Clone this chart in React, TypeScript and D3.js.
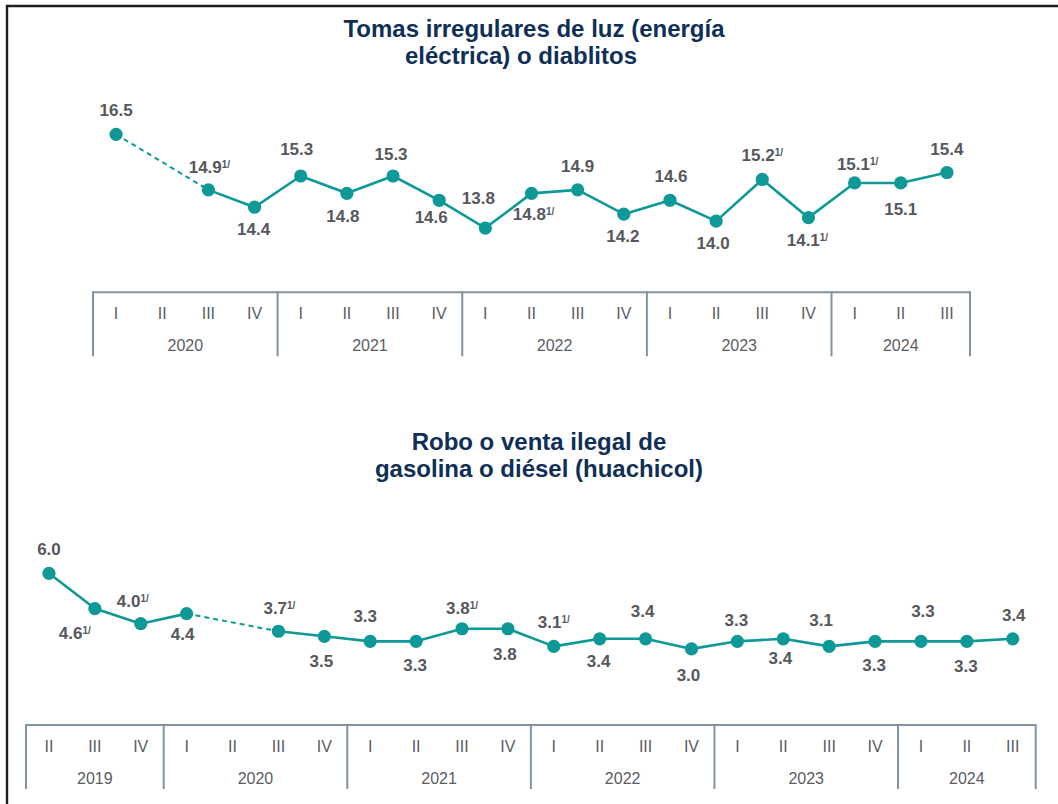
import React from "react";
import * as d3 from "d3";

// ---------- Data ----------
const elecTitle = ["Tomas irregulares de luz (energía", "eléctrica) o diablitos"];
const elecYears = ["2020","2020","2020","2020","2021","2021","2021","2021","2022","2022","2022","2022","2023","2023","2023","2023","2024","2024","2024"];
const elecQuarters = ["I","II","III","IV","I","II","III","IV","I","II","III","IV","I","II","III","IV","I","II","III"];
const elecValues: (number | null)[] = [16.5, null, 14.9, 14.4, 15.3, 14.8, 15.3, 14.6, 13.8, 14.8, 14.9, 14.2, 14.6, 14.0, 15.2, 14.1, 15.1, 15.1, 15.4];
const elecNotes = [false, false, true, false, false, false, false, false, false, true, false, false, false, false, true, true, true, false, false];
// label offset relative to the point (layout)
const elecLabelDx = [0, 0, 1, -1, -4, -4, -2, -8, -7, 2, 0, -1, 1, -3, 0, -1, 3, 0, 0];
const elecLabelDy = [-18, 0, -17, 28, -21, 29, -16, 23, -24, 27, -18, 28, -18, 28, -18, 28, -13, 32, -18];

const fuelTitle = ["Robo o venta ilegal de", "gasolina o diésel (huachicol)"];
const fuelYears = ["2019","2019","2019","2020","2020","2020","2020","2021","2021","2021","2021","2022","2022","2022","2022","2023","2023","2023","2023","2024","2024","2024"];
const fuelQuarters = ["II","III","IV","I","II","III","IV","I","II","III","IV","I","II","III","IV","I","II","III","IV","I","II","III"];
const fuelValues: (number | null)[] = [6.0, 4.6, 4.0, 4.4, null, 3.7, 3.5, 3.3, 3.3, 3.8, 3.8, 3.1, 3.4, 3.4, 3.0, 3.3, 3.4, 3.1, 3.3, 3.3, 3.3, 3.4];
const fuelNotes = [false, true, true, false, false, true, false, false, false, true, false, true, false, false, false, false, false, false, false, false, false, false];
const fuelLabelDx = [0, -20, -8, -4, 0, 1, -3, -5, -1, 0, -3, 0, -1, -3, -3, -1, -3, -8, -1, 2, -1, 1];
const fuelLabelDy = [-18, 30, -17, 26, 0, -17, 31, -19, 30, -15, 31, -18, 28, -22, 32, -15, 25, -20, 30, -24, 31, -18];

const noteText = "1/";

// ---------- Style ----------
const TEAL = "#0f9898";
const NAVY = "#0f2f57";
const LABEL = "#55585c";
const AXIS = "#8193a1";
const AXIS_TEXT = "#5a5d62";
const FONT = "'Liberation Sans', Arial, Helvetica, sans-serif";

type ChartProps = {
  title: string[];
  titleX: number[];
  titleY: number;
  years: string[];
  quarters: string[];
  values: (number | null)[];
  notes: boolean[];
  labelDx: number[];
  labelDy: number[];
  xRange: [number, number];
  yDomain: [number, number];
  yRange: [number, number];
  axisTop: number;
};

function QuarterChart(p: ChartProps) {
  const keys = p.quarters.map((q, i) => `${p.years[i]}-${q}-${i}`);
  const x = d3.scaleBand<string>().domain(keys).range(p.xRange).padding(0);
  const y = d3.scaleLinear().domain(p.yDomain).range(p.yRange);
  const cx = (i: number) => (x(keys[i]) as number) + x.bandwidth() / 2;

  type Pt = { i: number; v: number | null };
  const pts: Pt[] = p.values.map((v, i) => ({ i, v }));
  const solid = d3
    .line<Pt>()
    .defined((d) => d.v != null)
    .x((d) => cx(d.i))
    .y((d) => y(d.v as number));

  const defined = pts.filter((d) => d.v != null);
  const gaps: Pt[][] = [];
  for (let k = 1; k < defined.length; k++) {
    if (defined[k].i - defined[k - 1].i > 1) gaps.push([defined[k - 1], defined[k]]);
  }
  const dashed = d3
    .line<Pt>()
    .x((d) => cx(d.i))
    .y((d) => y(d.v as number));

  // year groups
  const groups: { year: string; start: number; end: number }[] = [];
  p.years.forEach((yr, i) => {
    const g = groups[groups.length - 1];
    if (g && g.year === yr) g.end = i;
    else groups.push({ year: yr, start: i, end: i });
  });
  const bw = x.bandwidth();
  const left = p.xRange[0];
  const right = p.xRange[1];
  const top = p.axisTop;
  const bottom = p.axisTop + 64;

  return (
    <g>
      {p.title.map((t, k) => (
        <text
          key={k}
          x={p.titleX[k]}
          y={p.titleY + k * 27}
          textAnchor="middle"
          fontFamily={FONT}
          fontWeight="bold"
          fontSize={24}
          fill={NAVY}
        >
          {t}
        </text>
      ))}
      {/* axis */}
      <line x1={left} x2={right} y1={top} y2={top} stroke={AXIS} strokeWidth={2} />
      {[left, ...groups.map((g) => (x(keys[g.end]) as number) + bw)].map((xx, k) => (
        <line key={k} x1={xx} x2={xx} y1={top - 1} y2={bottom} stroke={AXIS} strokeWidth={2} />
      ))}
      {p.quarters.map((q, i) => (
        <text
          key={i}
          x={cx(i)}
          y={top + 26.5}
          textAnchor="middle"
          fontFamily={FONT}
          fontSize={16}
          fill={AXIS_TEXT}
        >
          {q}
        </text>
      ))}
      {groups.map((g, k) => (
        <text
          key={k}
          x={((x(keys[g.start]) as number) + (x(keys[g.end]) as number) + bw) / 2}
          y={top + 58.5}
          textAnchor="middle"
          fontFamily={FONT}
          fontSize={16}
          fill={AXIS_TEXT}
        >
          {g.year}
        </text>
      ))}
      {/* lines */}
      <path d={solid(pts) || ""} fill="none" stroke={TEAL} strokeWidth={2.6} strokeLinejoin="round" />
      {gaps.map((g, k) => (
        <path key={k} d={dashed(g) || ""} fill="none" stroke={TEAL} strokeWidth={2} strokeDasharray="5 4" />
      ))}
      {defined.map((d) => (
        <circle key={d.i} cx={cx(d.i)} cy={y(d.v as number)} r={6.6} fill={TEAL} />
      ))}
      {defined.map((d) => (
        <text
          key={"l" + d.i}
          x={cx(d.i) + p.labelDx[d.i]}
          y={y(d.v as number) + p.labelDy[d.i]}
          textAnchor="middle"
          fontFamily={FONT}
          fontWeight="bold"
          fontSize={17}
          fill={LABEL}
        >
          {(d.v as number).toFixed(1)}
          {p.notes[d.i] ? (
            <tspan fontSize={10} dy={-5}>
              {noteText}
            </tspan>
          ) : null}
        </text>
      ))}
    </g>
  );
}

export default function App() {
  return (
    <svg
      width={1058}
      height={804}
      viewBox="0 0 1058 804"
      style={{ position: "absolute", left: 0, top: 0, background: "#fff" }}
    >
      <rect x={0} y={0} width={1058} height={804} fill="#fff" />
      <line x1={7} x2={7} y1={5} y2={804} stroke="#1e1e1e" strokeWidth={2.4} />
      <line x1={6} x2={1058} y1={6} y2={6} stroke="#1e1e1e" strokeWidth={2.4} />
      <QuarterChart
        title={elecTitle}
        titleX={[534, 521]}
        titleY={36.5}
        years={elecYears}
        quarters={elecQuarters}
        values={elecValues}
        notes={elecNotes}
        labelDx={elecLabelDx}
        labelDy={elecLabelDy}
        xRange={[93, 970]}
        yDomain={[13, 17]}
        yRange={[255.8, 117]}
        axisTop={292.3}
      />
      <QuarterChart
        title={fuelTitle}
        titleX={[539, 539]}
        titleY={450}
        years={fuelYears}
        quarters={fuelQuarters}
        values={fuelValues}
        notes={fuelNotes}
        labelDx={fuelLabelDx}
        labelDy={fuelLabelDy}
        xRange={[26, 1035.7]}
        yDomain={[2, 7]}
        yRange={[674.1, 548.1]}
        axisTop={725}
      />
    </svg>
  );
}
